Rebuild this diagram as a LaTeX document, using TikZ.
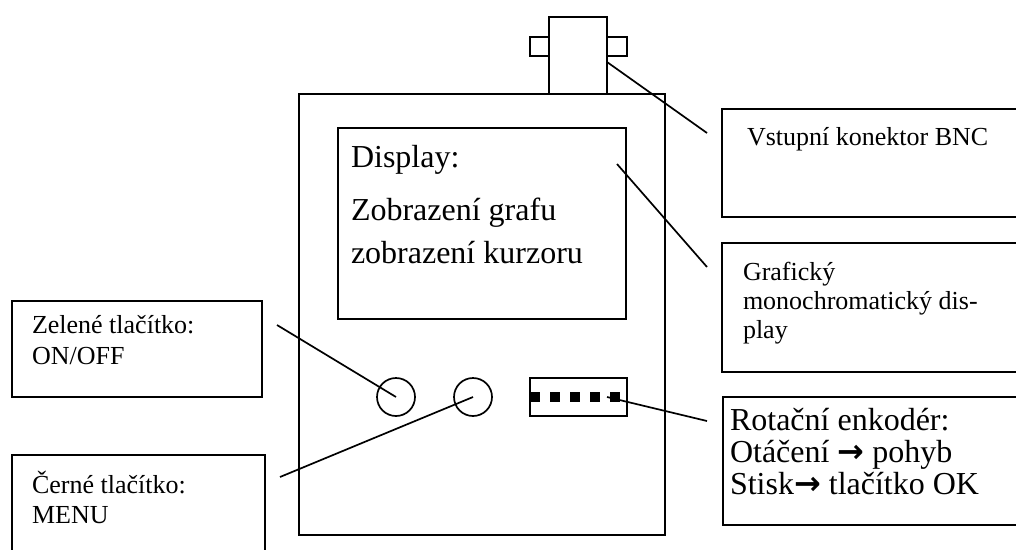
\documentclass[tikz,border=0pt]{standalone}
\usepackage{fontspec}
\setmainfont{Liberation Serif}
\newfontfamily\arrowfont{DejaVu Sans}
\usetikzlibrary{positioning}
\newcommand{\rarr}{{\arrowfont\bfseries →}}

\begin{document}
\begin{tikzpicture}[x=1pt, y=-1pt, line width=1.7pt,
 every node/.style={inner sep=0pt, outer sep=0pt},
 frame/.style={draw, anchor=north west, line width=1.7pt},
 smalltxt/.style={anchor=base west, align=left, font=\fontsize{26}{29}\selectfont},
 bigtxt/.style={anchor=base west, align=left, font=\fontsize{32}{32}\selectfont},
 knob/.style={draw, circle, minimum size=38pt, line width=1.7pt},
 pad/.style={fill, minimum size=10pt, anchor=west}]
\useasboundingbox (0,0) rectangle (1016,549);
\clip (0,0) rectangle (1016,549);
% device body
\node[frame, minimum width=366pt, minimum height=441pt] (device) at (299,94) {};
\node[frame, minimum width=58pt, minimum height=77pt] (bnc) at (549,17) {};
\node[frame, minimum width=19pt, minimum height=19pt] (bnctabl) at (530,37) {};
\node[frame, minimum width=20pt, minimum height=19pt] (bnctabr) at (607,37) {};
\node[frame, minimum width=288pt, minimum height=191pt] (screen) at (338,128) {};
\node[bigtxt] (screentitle) at (351,167) {Display:};
\node[bigtxt, font=\fontsize{32}{43}\selectfont] (screentext) at (351,263) {Zobrazení grafu\\zobrazení kurzoru};
\node[knob] (greenknob) at (396,397) {};
\node[knob] (blackknob) at (473,397) {};
\node[frame, minimum width=97pt, minimum height=38pt] (encoder) at (530,378) {};
\foreach \i/\x in {1/530,2/550,3/570,4/590,5/610}
  \node[pad] (pad\i) at (\x,397) {};
% callout boxes (text anchored on its last line)
\node[frame, minimum width=310pt, minimum height=108pt] (bncbox) at (722,109) {};
\node[smalltxt] (bnctxt) at (747,145) {Vstupní konektor BNC};
\node[frame, minimum width=310pt, minimum height=129pt] (screenbox) at (722,243) {};
\node[smalltxt] (screenboxtxt) at (743,338) {Grafický\\monochromatický dis-\\play};
\node[frame, minimum width=310pt, minimum height=128pt] (encbox) at (723,397) {};
\node[bigtxt] (enctxt) at (730,494) {Rotační enkodér:\\Otáčení \rarr{} pohyb\\Stisk\rarr{} tlačítko OK};
\node[frame, minimum width=250pt, minimum height=96pt] (greenbox) at (12,301) {};
\node[smalltxt, font=\fontsize{26}{31}\selectfont] (greentxt) at (32,364) {Zelené tlačítko:\\ON/OFF};
\node[frame, minimum width=253pt, minimum height=110pt] (blackbox) at (12,455) {};
\node[smalltxt, font=\fontsize{26}{30}\selectfont] (blacktxt) at (32,523) {Černé tlačítko:\\MENU};
% leader lines
\coordinate (bncend) at (707,133);
\coordinate (screenstart) at (617,164);
\coordinate (screenend) at (707,267);
\coordinate (greenend) at (277,325);
\coordinate (blackend) at (280,477);
\coordinate (encend) at (707,421);
\draw ([yshift=-6.5pt]bnc.east) -- (bncend);
\draw (screenstart) -- (screenend);
\draw (greenend) -- (greenknob.center);
\draw (blackend) -- (blackknob.center);
\draw ([xshift=-3pt]pad5.west) -- (encend);
\end{tikzpicture}
\end{document}
